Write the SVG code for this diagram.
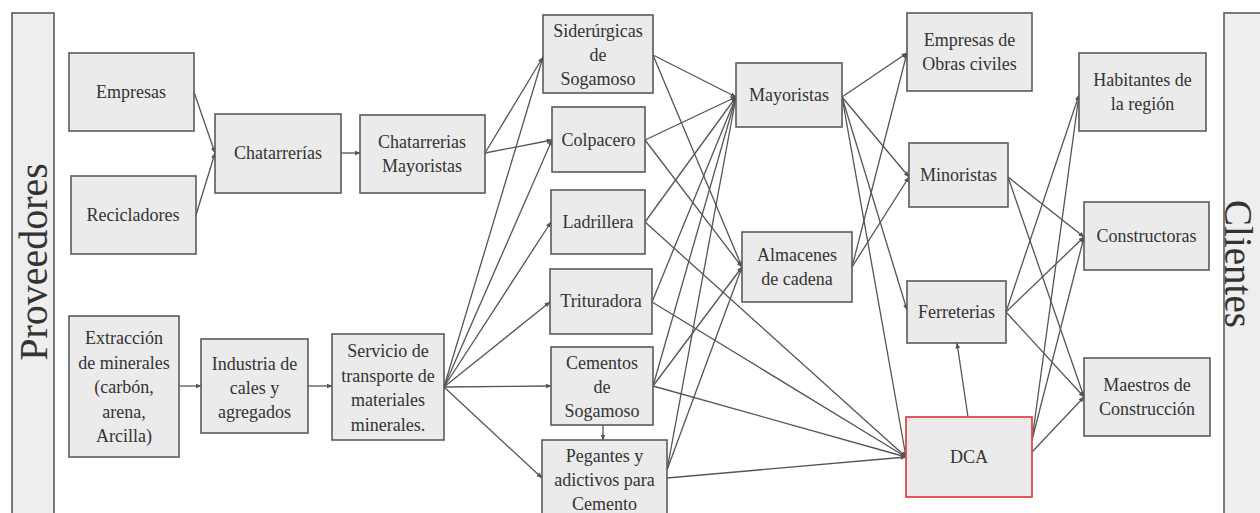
<svg xmlns="http://www.w3.org/2000/svg" width="1260" height="513" viewBox="0 0 1260 513">
  <style>
    .box { fill: #ebebeb; stroke: #5a5a5a; stroke-width: 1.6; }
    .dca { fill: #ebebeb; stroke: #e0474c; stroke-width: 1.8; }
    .band { fill: #eeeeee; stroke: #5a5a5a; stroke-width: 1.6; }
    .lbl { font-family: "Liberation Serif", "Times New Roman", serif; font-size: 18px; fill: #333; text-anchor: middle; }
    .big { font-family: "Liberation Serif", "Times New Roman", serif; font-size: 40px; fill: #333; text-anchor: middle; }
    .edge line { stroke: #555; stroke-width: 1.3; marker-end: url(#arr); }
  </style>
  <defs>
    <marker id="arr" viewBox="0 0 10 10" refX="9" refY="5" markerWidth="6" markerHeight="6" markerUnits="userSpaceOnUse" orient="auto">
      <path d="M0,1 L10,5 L0,9 z" fill="#555"/>
    </marker>
  </defs>
  <rect width="1260" height="513" fill="#ffffff"/>

  <!-- side bands -->
  <g id="proveedores">
    <rect class="band" x="12" y="13" width="42" height="510"/>
    <text class="big" transform="translate(47,262) rotate(-90)">Proveedores</text>
  </g>
  <g id="clientes">
    <rect class="band" x="1224" y="13" width="48" height="510"/>
    <text class="big" style="font-size:39px" transform="translate(1225,264) rotate(90)">Clientes</text>
  </g>

  <!-- connectors -->
  <g id="connectors" class="edge">
    <line x1="194" y1="92" x2="215" y2="153"/>
    <line x1="196" y1="215" x2="215" y2="153"/>
    <line x1="341" y1="153" x2="360" y2="153"/>
    <line x1="485" y1="153" x2="543" y2="57"/>
    <line x1="485" y1="153" x2="552" y2="140"/>
    <line x1="179" y1="386" x2="201" y2="386"/>
    <line x1="308" y1="386" x2="332" y2="386"/>
    <line x1="444" y1="387" x2="543" y2="57"/>
    <line x1="444" y1="387" x2="552" y2="140"/>
    <line x1="444" y1="387" x2="551" y2="222"/>
    <line x1="444" y1="387" x2="550" y2="302"/>
    <line x1="444" y1="387" x2="551" y2="386"/>
    <line x1="444" y1="387" x2="542" y2="478"/>
    <line x1="603" y1="425" x2="603" y2="440"/>
    <!-- producers to Mayoristas -->
    <line x1="653" y1="55" x2="736" y2="97"/>
    <line x1="645" y1="140" x2="736" y2="97"/>
    <line x1="645" y1="222" x2="736" y2="97"/>
    <line x1="652" y1="302" x2="736" y2="97"/>
    <line x1="653" y1="386" x2="736" y2="97"/>
    <line x1="667" y1="470" x2="736" y2="97"/>
    <!-- producers to Almacenes -->
    <line x1="653" y1="55" x2="742" y2="267"/>
    <line x1="645" y1="140" x2="742" y2="267"/>
    <line x1="653" y1="386" x2="742" y2="267"/>
    <line x1="667" y1="470" x2="742" y2="267"/>
    <!-- producers to DCA -->
    <line x1="645" y1="222" x2="906" y2="457"/>
    <line x1="652" y1="302" x2="906" y2="457"/>
    <line x1="653" y1="386" x2="906" y2="457"/>
    <line x1="667" y1="478" x2="906" y2="457"/>
    <!-- distributors -->
    <line x1="842" y1="97" x2="907" y2="53"/>
    <line x1="842" y1="97" x2="909" y2="177"/>
    <line x1="842" y1="97" x2="907" y2="310"/>
    <line x1="842" y1="97" x2="906" y2="457"/>
    <line x1="852" y1="267" x2="907" y2="53"/>
    <line x1="852" y1="267" x2="909" y2="177"/>
    <line x1="968" y1="417" x2="957" y2="343"/>
    <!-- to clients -->
    <line x1="1008" y1="177" x2="1084" y2="237"/>
    <line x1="1008" y1="177" x2="1084" y2="397"/>
    <line x1="1006" y1="312" x2="1079" y2="95"/>
    <line x1="1006" y1="312" x2="1084" y2="237"/>
    <line x1="1006" y1="312" x2="1084" y2="397"/>
    <line x1="1032" y1="440" x2="1079" y2="95"/>
    <line x1="1032" y1="440" x2="1084" y2="237"/>
    <line x1="1032" y1="452" x2="1084" y2="397"/>
  </g>

  <!-- nodes -->
  <g id="empresas">
    <rect class="box" x="69" y="53" width="125" height="78"/>
    <text class="lbl" x="131" y="98">Empresas</text>
  </g>
  <g id="recicladores">
    <rect class="box" x="71" y="176" width="125" height="78"/>
    <text class="lbl" x="133" y="221">Recicladores</text>
  </g>
  <g id="chatarrerias">
    <rect class="box" x="215" y="114" width="126" height="79"/>
    <text class="lbl" x="278" y="159">Chatarrerías</text>
  </g>
  <g id="chatarrerias-mayoristas">
    <rect class="box" x="360" y="115" width="125" height="78"/>
    <text class="lbl" x="422" y="148">Chatarrerias<tspan x="422" dy="24">Mayoristas</tspan></text>
  </g>
  <g id="extraccion">
    <rect class="box" x="69" y="316" width="110" height="141"/>
    <text class="lbl" x="124" y="344">Extracción<tspan x="124" dy="24.5">de minerales</tspan><tspan x="124" dy="24.5">(carbón,</tspan><tspan x="124" dy="24.5">arena,</tspan><tspan x="124" dy="24.5">Arcilla)</tspan></text>
  </g>
  <g id="industria">
    <rect class="box" x="201" y="339" width="107" height="94"/>
    <text class="lbl" x="254.5" y="370">Industria de<tspan x="254.5" dy="24">cales y</tspan><tspan x="254.5" dy="24">agregados</tspan></text>
  </g>
  <g id="servicio-transporte">
    <rect class="box" x="332" y="334" width="112" height="106"/>
    <text class="lbl" x="388" y="357">Servicio de<tspan x="388" dy="24.5">transporte de</tspan><tspan x="388" dy="24.5">materiales</tspan><tspan x="388" dy="24.5">minerales.</tspan></text>
  </g>
  <g id="siderurgicas">
    <rect class="box" x="543" y="15" width="110" height="78"/>
    <text class="lbl" x="598" y="37">Siderúrgicas<tspan x="598" dy="24">de</tspan><tspan x="598" dy="24">Sogamoso</tspan></text>
  </g>
  <g id="colpacero">
    <rect class="box" x="552" y="107" width="93" height="65"/>
    <text class="lbl" x="598.5" y="146">Colpacero</text>
  </g>
  <g id="ladrillera">
    <rect class="box" x="551" y="190" width="94" height="64"/>
    <text class="lbl" x="598" y="228">Ladrillera</text>
  </g>
  <g id="trituradora">
    <rect class="box" x="550" y="269" width="102" height="65"/>
    <text class="lbl" x="601" y="307">Trituradora</text>
  </g>
  <g id="cementos">
    <rect class="box" x="551" y="347" width="102" height="78"/>
    <text class="lbl" x="602" y="369">Cementos<tspan x="602" dy="24">de</tspan><tspan x="602" dy="24">Sogamoso</tspan></text>
  </g>
  <g id="pegantes">
    <rect class="box" x="542" y="440" width="125" height="85"/>
    <text class="lbl" x="604.5" y="462">Pegantes y<tspan x="604.5" dy="24">adictivos para</tspan><tspan x="604.5" dy="24">Cemento</tspan></text>
  </g>
  <g id="mayoristas">
    <rect class="box" x="736" y="63" width="106" height="64"/>
    <text class="lbl" x="789" y="101">Mayoristas</text>
  </g>
  <g id="almacenes">
    <rect class="box" x="742" y="232" width="110" height="70"/>
    <text class="lbl" x="797" y="261">Almacenes<tspan x="797" dy="24">de cadena</tspan></text>
  </g>
  <g id="obras-civiles">
    <rect class="box" x="907" y="13" width="125" height="78"/>
    <text class="lbl" x="969.5" y="46">Empresas de<tspan x="969.5" dy="24">Obras civiles</tspan></text>
  </g>
  <g id="minoristas">
    <rect class="box" x="909" y="143" width="99" height="64"/>
    <text class="lbl" x="958.5" y="181">Minoristas</text>
  </g>
  <g id="ferreterias">
    <rect class="box" x="907" y="281" width="99" height="62"/>
    <text class="lbl" x="956.5" y="318">Ferreterias</text>
  </g>
  <g id="dca">
    <rect class="dca" x="906" y="417" width="126" height="80"/>
    <text class="lbl" x="969" y="463">DCA</text>
  </g>
  <g id="habitantes">
    <rect class="box" x="1079" y="53" width="127" height="78"/>
    <text class="lbl" x="1142.5" y="86">Habitantes de<tspan x="1142.5" dy="24">la región</tspan></text>
  </g>
  <g id="constructoras">
    <rect class="box" x="1084" y="202" width="125" height="68"/>
    <text class="lbl" x="1146.5" y="242">Constructoras</text>
  </g>
  <g id="maestros">
    <rect class="box" x="1084" y="358" width="126" height="78"/>
    <text class="lbl" x="1147" y="391">Maestros de<tspan x="1147" dy="24">Construcción</tspan></text>
  </g>
</svg>
